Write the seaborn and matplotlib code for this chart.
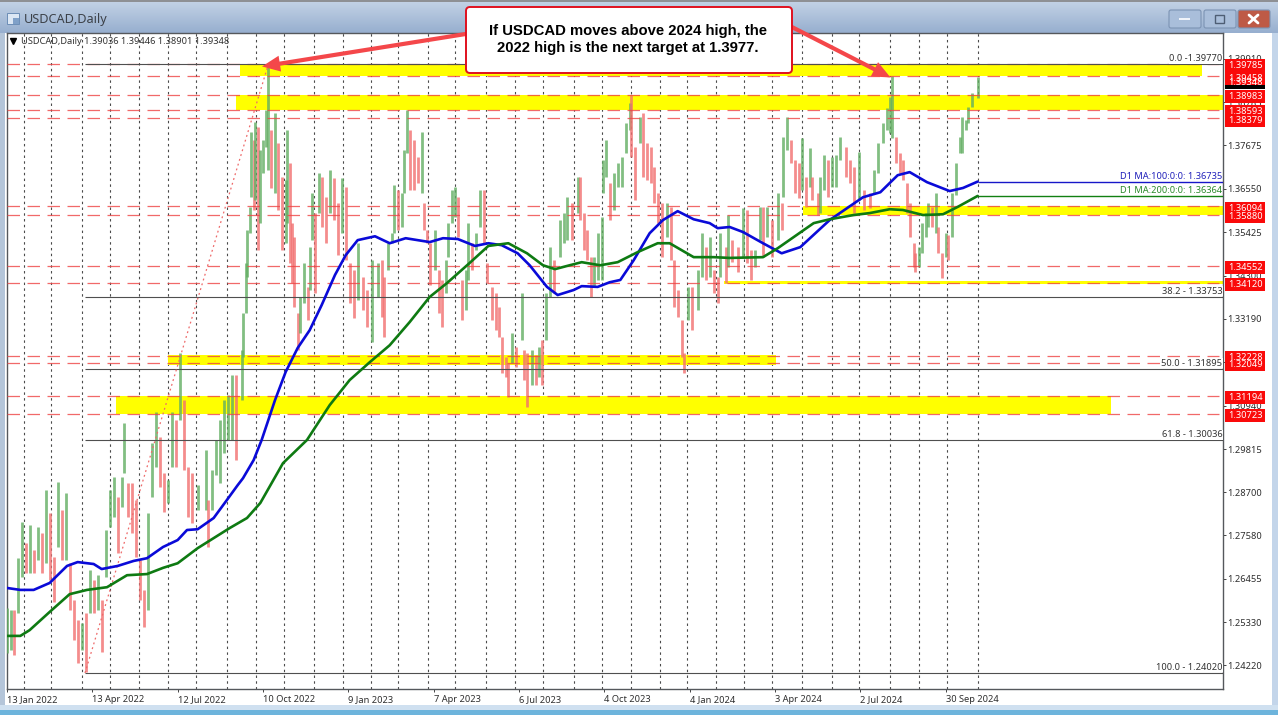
import numpy as np
import pandas as pd
import matplotlib
matplotlib.use("Agg")
import matplotlib.pyplot as plt
import matplotlib.transforms as mtrans
from matplotlib.patches import Rectangle, FancyBboxPatch
import seaborn as sns

SYMBOL = "USDCAD,Daily"
LAST_OHLC = ["1.39036", "1.39446", "1.38901", "1.39348"]

DATE_LABELS = ["13 Jan 2022", "13 Apr 2022", "12 Jul 2022", "10 Oct 2022", "9 Jan 2023", "7 Apr 2023",
               "6 Jul 2023", "4 Oct 2023", "4 Jan 2024", "3 Apr 2024", "2 Jul 2024", "30 Sep 2024"]
HOLIDAYS = ["2023-01-02", "2023-12-25", "2024-01-01"]
PRICE_TICKS = [1.39910, 1.38785, 1.37675, 1.36550, 1.35425, 1.34300, 1.33190, 1.32065, 1.30940,
               1.29815, 1.28700, 1.27580, 1.26455, 1.25330, 1.24220]

# Sampled trading sessions: session number, high and low (pips, price x 10000)
sessions = [0,3,5,8,11,14,17,20,23,26,
            29,32,35,38,41,44,47,50,53,56,
            59,62,65,68,71,74,77,80,83,86,
            88,91,94,97,100,103,106,109,112,115,
            118,121,124,127,130,133,136,139,143,149,
            151,154,157,160,163,166,169,172,176,177,
            179,180,182,183,185,186,188,190,192,194,
            196,198,201,203,206,209,210,212,214,215,
            218,220,223,226,227,229,231,234,236,239,
            242,245,248,251,254,257,260,263,267,270,
            274,278,281,283,286,289,290,293,296,298,
            300,302,305,308,311,313,315,317,321,324,
            326,329,331,334,336,338,341,344,346,349,
            352,355,358,360,364,367,369,371,374,376,
            379,382,386,388,390,394,397,399,401,404,
            407,410,415,418,420,424,428,430,433,435,
            438,440,443,446,447,449,452,455,458,461,
            464,467,468,471,475,477,480,483,485,488,
            491,495,498,500,503,506,508,511,514,518,
            521,524,527,530,533,535,539,541,544,548,
            552,555,558,561,565,567,570,574,578,581,
            582,585,588,591,594,596,599,602,604,608,
            610,613,616,619,622,625,629,632,635,639,
            643,647,650,653,657,660,662,664,667,670,
            672,675,677,680,681,684,686,689,691,694,
            697,698,701,704,706,709,712,715,716,719,
            721,724,728]
session_high = [12570,12565,12565,12699,12793,12738,12785,12720,12780,12764,
                12875,12816,12702,12896,12824,12868,12686,12591,12539,12531,
                12557,12668,12642,12655,12591,12772,12875,12909,12857,12909,
                13049,12893,12893,12850,12694,12617,12816,12997,13077,13012,
                12919,12901,13077,13056,13230,13108,12935,12919,12888,12979,
                12850,12927,13005,13056,13108,13121,13173,13173,13238,13333,
                13463,13548,13607,13802,13781,13827,13814,13755,13781,13858,
                13977,13807,13851,13773,13685,13677,13807,13721,13566,13530,
                13333,13375,13463,13400,13504,13644,13592,13695,13685,13633,
                13703,13683,13618,13683,13659,13463,13445,13514,13426,13393,
                13470,13463,13470,13426,13514,13540,13664,13651,13644,13755,
                13858,13807,13781,13737,13802,13618,13548,13514,13548,13445,
                13419,13470,13566,13651,13659,13633,13419,13445,13566,13514,
                13540,13651,13651,13463,13400,13385,13349,13271,13219,13204,
                13282,13245,13385,13238,13230,13238,13225,13245,13263,13385,
                13504,13470,13574,13592,13633,13618,13685,13685,13592,13548,
                13478,13478,13540,13582,13729,13781,13670,13695,13721,13737,
                13825,13877,13897,13763,13840,13851,13773,13763,13711,13644,
                13618,13618,13607,13470,13393,13315,13230,13400,13400,13445,
                13540,13504,13530,13445,13426,13540,13504,13587,13522,13504,
                13605,13600,13496,13496,13607,13607,13607,13574,13644,13618,
                13789,13840,13781,13729,13721,13786,13685,13760,13685,13644,
                13685,13742,13729,13737,13742,13789,13763,13729,13711,13750,
                13651,13644,13703,13773,13825,13864,13892,13946,13789,13747,
                13729,13670,13618,13514,13488,13504,13566,13592,13618,13607,
                13644,13556,13488,13540,13535,13644,13721,13789,13840,13833,
                13866,13902,13945]
session_low = [12454,12461,12449,12557,12650,12661,12661,12661,12694,12661,
               12686,12643,12586,12728,12694,12694,12565,12487,12428,12461,
               12405,12557,12557,12565,12456,12650,12780,12805,12712,12831,
               12919,12805,12764,12702,12591,12521,12565,12857,12935,12883,
               12818,12842,12935,12935,13056,12927,12805,12790,12824,12824,
               12728,12824,12914,12893,12971,13005,13005,12953,13108,13219,
               13333,13426,13540,13633,13600,13626,13496,13566,13695,13763,
               13703,13657,13644,13600,13496,13514,13566,13463,13411,13349,
               13238,13282,13359,13315,13393,13522,13385,13592,13556,13514,
               13592,13574,13483,13540,13470,13359,13320,13367,13341,13297,
               13258,13375,13323,13271,13445,13514,13540,13548,13556,13644,
               13747,13651,13651,13670,13644,13548,13514,13406,13445,13333,
               13297,13385,13478,13566,13582,13530,13315,13341,13419,13445,
               13496,13556,13514,13411,13315,13289,13271,13178,13168,13116,
               13204,13194,13263,13160,13090,13147,13147,13168,13147,13263,
               13375,13385,13478,13514,13522,13522,13592,13574,13496,13470,
               13375,13400,13419,13419,13644,13685,13574,13600,13659,13659,
               13747,13807,13737,13626,13773,13685,13677,13670,13618,13566,
               13478,13530,13470,13349,13323,13219,13178,13315,13289,13341,
               13426,13419,13426,13385,13359,13426,13411,13452,13465,13439,
               13478,13463,13419,13452,13522,13478,13530,13478,13522,13548,
               13633,13755,13721,13644,13631,13651,13607,13659,13626,13587,
               13592,13651,13633,13659,13659,13729,13685,13670,13592,13626,
               13600,13605,13644,13695,13773,13807,13799,13786,13721,13695,
               13677,13592,13530,13452,13439,13452,13488,13530,13556,13556,
               13540,13488,13424,13478,13470,13530,13639,13747,13747,13807,
               13825,13866,13890]

# Moving averages: sessions at which each curve was read, with its level in pips
ma100_sessions = [0,10,20,32,45,53,65,71,83,95,105,117,128,135,143,155,165,173,177,185,191,201,209,218,227,
                  236,246,254,263,276,287,299,317,327,338,351,361,371,383,392,405,413,425,431,443,452,460,
                  470,482,492,503,515,527,533,542,552,567,581,595,617,642,655,668,677,690,707,717,728]
ma100_level = [12622,12617,12617,12635,12679,12689,12684,12671,12679,12692,12699,12728,12746,12772,12774,12803,
               12850,12888,12906,12953,13005,13108,13181,13243,13289,13354,13432,13483,13522,13532,13514,13527,
               13517,13527,13525,13507,13514,13509,13488,13457,13401,13380,13393,13403,13401,13413,13419,13470,
               13540,13574,13597,13576,13566,13553,13556,13543,13514,13488,13504,13574,13633,13646,13690,13698,
               13672,13649,13657,13673.5]
ma200_sessions = [0,10,17,32,47,60,75,90,105,117,128,143,167,180,190,207,225,242,257,272,287,302,317,330,347,
                  361,376,390,402,411,422,431,445,458,473,488,497,515,530,542,567,578,605,617,635,647,662,672,
                  687,702,713,728]
ma200_level = [12498,12498,12513,12560,12606,12617,12624,12655,12658,12674,12686,12725,12777,12803,12842,12945,
               13005,13095,13160,13206,13250,13310,13375,13411,13463,13507,13514,13488,13457,13447,13457,13465,
               13457,13465,13491,13514,13514,13478,13478,13476,13478,13501,13566,13576,13587,13592,13602,13600,
               13587,13589,13608,13636.4]
MA100_TEXT = "D1 MA:100:0:0: 1.36735"
MA200_TEXT = "D1 MA:200:0:0: 1.36364"

# Horizontal support and resistance levels
LEVELS = [1.39785, 1.39458, 1.38983, 1.38593, 1.38379, 1.36094, 1.35880, 1.34552,
          1.34120, 1.32228, 1.32049, 1.31194, 1.30723]
# Highlighted zones: first session, last session, upper and lower price
zone_start = [175, 172, 597, 538, 121, 82]
zone_end = [896, 912, 912, 912, 577, 828]
zone_top = [1.39785, 1.38983, 1.36094, 1.34165, 1.32250, 1.31194]
zone_bottom = [1.39458, 1.38593, 1.35880, 1.34075, 1.31995, 1.30723]

# Fibonacci retracement of the 2022 swing
FIB_LOW = 1.24020
FIB_HIGH = 1.39770
FIB_PRICES = [1.39770, 1.33753, 1.31895, 1.30036, 1.24020]
FIB_TEXT = ["0.0 -1.39770", "38.2 - 1.33753", "50.0 - 1.31895", "61.8 - 1.30036", "100.0 - 1.24020"]
FIB_START_SESSION = 58.5
FIB_END_SESSION = 196

CALLOUT = "If USDCAD moves above 2024 high, the\n2022 high is the next target at 1.3977."

sns.set_theme(style="white")
plt.rcParams["font.family"] = ["Noto Sans", "DejaVu Sans"]
plt.rcParams["axes.unicode_minus"] = False

W, H = 1278, 715
SMALL = 6.7
fig = plt.figure(figsize=(W / 100, H / 100), dpi=100, facecolor="white")

# Window chrome, laid out in pixel units
chrome = fig.add_axes([0, 0, 1, 1], zorder=0)
chrome.set_xlim(0, W)
chrome.set_ylim(H, 0)
chrome.axis("off")
top_band = np.linspace(0, 1, 33).reshape(-1, 1)
chrome.imshow(top_band, extent=(0, W, 33, 0), aspect="auto", zorder=1,
              cmap=matplotlib.colors.LinearSegmentedColormap.from_list("bar", ["#C4D3E6", "#97AFCF"]))
chrome.add_patch(Rectangle((0, 0), W, 2, color="#8E9094", lw=0, zorder=2))
chrome.add_patch(Rectangle((0, 33), 5, H, color="#B4C5D9", lw=0, zorder=2))
chrome.add_patch(Rectangle((1272, 33), 6, H, color="#C3D5EA", lw=0, zorder=2))
chrome.add_patch(Rectangle((0, 705), W, 5, color="#CFE0F0", lw=0, zorder=2))
chrome.add_patch(Rectangle((0, 710), W, 5, color="#6DB4DC", lw=0, zorder=2))
chrome.set_xlim(0, W)
chrome.set_ylim(H, 0)

# Title bar icon, title and window buttons
chrome.add_patch(Rectangle((7, 13), 12, 11, fc="#DCE7F4", ec="#6C8DB6", lw=0.7, zorder=3))
chrome.add_patch(Rectangle((13, 18), 6, 6, fc="#7FA0C8", lw=0, zorder=3))
chrome.text(24, 20, SYMBOL, fontsize=9.1, color="#3C4148", va="center", ha="left", zorder=3)
for x0, face in [(1169, "#A9BEDA"), (1204, "#A9BEDA"), (1238, "#BE5A46")]:
    chrome.add_patch(FancyBboxPatch((x0, 10), 32, 18, boxstyle="round,pad=0,rounding_size=2",
                                    fc=face, ec="#7C93B3", lw=0.8, zorder=3))
chrome.add_patch(Rectangle((1179, 18), 11, 2.4, color="#F0F4FA", lw=0, zorder=4))
chrome.add_patch(Rectangle((1215, 15), 9, 8, fc="none", ec="#4E5E74", lw=1, zorder=4))
chrome.plot([1249, 1258], [15, 23], color="white", lw=2.0, zorder=4)
chrome.plot([1249, 1258], [23, 15], color="white", lw=2.0, zorder=4)

# Price chart
LEFT, RIGHT, TOP, BOTTOM = 6.5, 1223, 33, 689
ax = fig.add_axes([LEFT / W, 1 - BOTTOM / H, (RIGHT - LEFT) / W, (BOTTOM - TOP) / H], zorder=2)
ax.set_facecolor("white")
ax.set_xlim(-0.375, 912)
PRICE_PER_PX = 0.1575 / 608.7
ax.set_ylim(FIB_HIGH - (BOTTOM - 64.3) * PRICE_PER_PX, FIB_HIGH + (64.3 - TOP) * PRICE_PER_PX)

# Trading calendar gives month separators and date tick positions
calendar = pd.bdate_range("2022-01-13", "2024-11-29").difference(pd.to_datetime(HOLIDAYS))
month_first = pd.Series(np.arange(len(calendar)), index=calendar).groupby(calendar.to_period("M")).first()
separators = month_first.values[1:]
separators = separators[calendar[separators] <= pd.Timestamp("2024-11-01")]
date_ticks = calendar.get_indexer(pd.to_datetime(DATE_LABELS, format="%d %b %Y"))

ax.vlines(separators, *ax.get_ylim(), color="#4A4A4A", lw=0.8, linestyles=(0, (2.2, 3)), zorder=1)

for start, end, top, bottom in zip(zone_start, zone_end, zone_top, zone_bottom):
    ax.add_patch(Rectangle((start, bottom), end - start, top - bottom, fc="#FFFF00", lw=0, zorder=2))

highs = np.array(session_high) / 1e4
lows = np.array(session_low) / 1e4
mids = (highs + lows) / 2
rising = np.r_[True, mids[1:] >= mids[:-1]]
ax.vlines(sessions, lows, highs, colors=np.where(rising, "#63AE63", "#F27070"), lw=2.0, alpha=0.8, zorder=3)

ax.hlines(LEVELS, -0.375, 909, color="#EE4444", lw=0.9, linestyles=(0, (10, 6)), alpha=0.8, zorder=4)

# Fibonacci lines and swing diagonal
ax.hlines(FIB_PRICES, FIB_START_SESSION, 912, color="#4F4F4F", lw=0.8, zorder=4)
sns.lineplot(x=[FIB_START_SESSION, FIB_END_SESSION], y=[FIB_LOW, FIB_HIGH], ax=ax, color="#EE6A6A",
             lw=0.9, linestyle=(0, (1.5, 2.5)), zorder=4, legend=False)

# Moving averages, with their current values carried to the right edge
sns.lineplot(x=ma100_sessions, y=np.array(ma100_level) / 1e4, ax=ax, color="#0A0AD8", lw=1.9, zorder=5,
             legend=False, estimator=None, sort=False)
sns.lineplot(x=ma200_sessions, y=np.array(ma200_level) / 1e4, ax=ax, color="#0E7A12", lw=1.9, zorder=5,
             legend=False, estimator=None, sort=False)
ax.hlines(ma100_level[-1] / 1e4, ma100_sessions[-1], 912, color="#1717C8", lw=1.0, zorder=5)
ax.hlines(ma200_level[-1] / 1e4, ma200_sessions[-1], 912, color="#128012", lw=1.0, zorder=5)

TEXT = dict(fontsize=SMALL, va="bottom", ha="right", zorder=6)
RIGHT_TEXT = 911.5
for price, label in zip(FIB_PRICES, FIB_TEXT):
    ax.text(RIGHT_TEXT, price + PRICE_PER_PX, label, color="#333333",
            bbox=dict(fc="white", ec="none", pad=0.3), **TEXT)
ax.text(RIGHT_TEXT, ma100_level[-1] / 1e4 + 0.5 * PRICE_PER_PX, MA100_TEXT, color="#2222BB", **TEXT)
ax.text(RIGHT_TEXT, ma200_level[-1] / 1e4 + 0.5 * PRICE_PER_PX, MA200_TEXT, color="#2B8A2B", **TEXT)

# Axis frame and ticks
ax.set_xticks(date_ticks)
ax.set_xticklabels(DATE_LABELS, ha="left", fontsize=SMALL, color="#2E2E2E")
ax.set_yticks(PRICE_TICKS)
ax.set_yticklabels([f"{p:.5f}" for p in PRICE_TICKS], fontsize=SMALL, color="#2E2E2E")
ax.yaxis.tick_right()
ax.tick_params(axis="x", length=2.5, width=0.7, color="#444444", pad=2, bottom=True)
ax.tick_params(axis="y", length=2.5, width=0.7, color="#444444", pad=0.6, right=True)
ax.set_xlabel("")
ax.set_ylabel("")
for spine in ax.spines.values():
    spine.set_color("#55585C")
    spine.set_linewidth(1.0)

# Overlay in pixel units for the chart caption and callout
over = fig.add_axes([0, 0, 1, 1], zorder=3)
over.set_xlim(0, W)
over.set_ylim(H, 0)
over.axis("off")
over.patch.set_alpha(0)
over.plot([12.5], [40.5], marker="v", ms=4.5, color="black", lw=0)
over.text(21, 41, f"{SYMBOL} " + " ".join(LAST_OHLC), fontsize=SMALL, color="#333333", va="center", ha="left")

# Price tags on the right-hand scale
tag_tf = mtrans.blended_transform_factory(over.transData, ax.transData)
def price_tag(price, face):
    centre = price - 2 * PRICE_PER_PX
    over.add_patch(Rectangle((1224.5, centre - 6.5 * PRICE_PER_PX), 40.5, 13 * PRICE_PER_PX, fc=face, lw=0,
                             transform=tag_tf, clip_on=False))
    over.text(1228, centre, f"{price:.5f}", color="white", fontsize=SMALL, va="center", ha="left",
              transform=tag_tf, clip_on=False)

price_tag(float(LAST_OHLC[3]), "black")
for level in LEVELS:
    price_tag(level, "#FA0A0A")

# Callout arrows point at the 2022 and 2024 highs, tails hidden behind the box
ARROW = dict(arrowstyle="simple,head_length=1.3,head_width=1.15,tail_width=0.3", mutation_scale=10,
             color="#F4474A", lw=0, shrinkA=0, shrinkB=0)
over.annotate("", xy=(262, 66.5), xytext=(472, 33), arrowprops=ARROW, zorder=2)
over.annotate("", xy=(890.5, 77.5), xytext=(786, 24), arrowprops=ARROW, zorder=2)
over.add_patch(FancyBboxPatch((466, 7), 326, 66, boxstyle="round,pad=0,rounding_size=4",
                              fc="white", ec="#E0101E", lw=1.4, zorder=4))
over.text(628, 39.5, CALLOUT, fontsize=10.75, fontweight="bold", color="black", ha="center", va="center",
          family="Liberation Sans", linespacing=1.25, zorder=5)

fig.savefig("out.png", dpi=100)
